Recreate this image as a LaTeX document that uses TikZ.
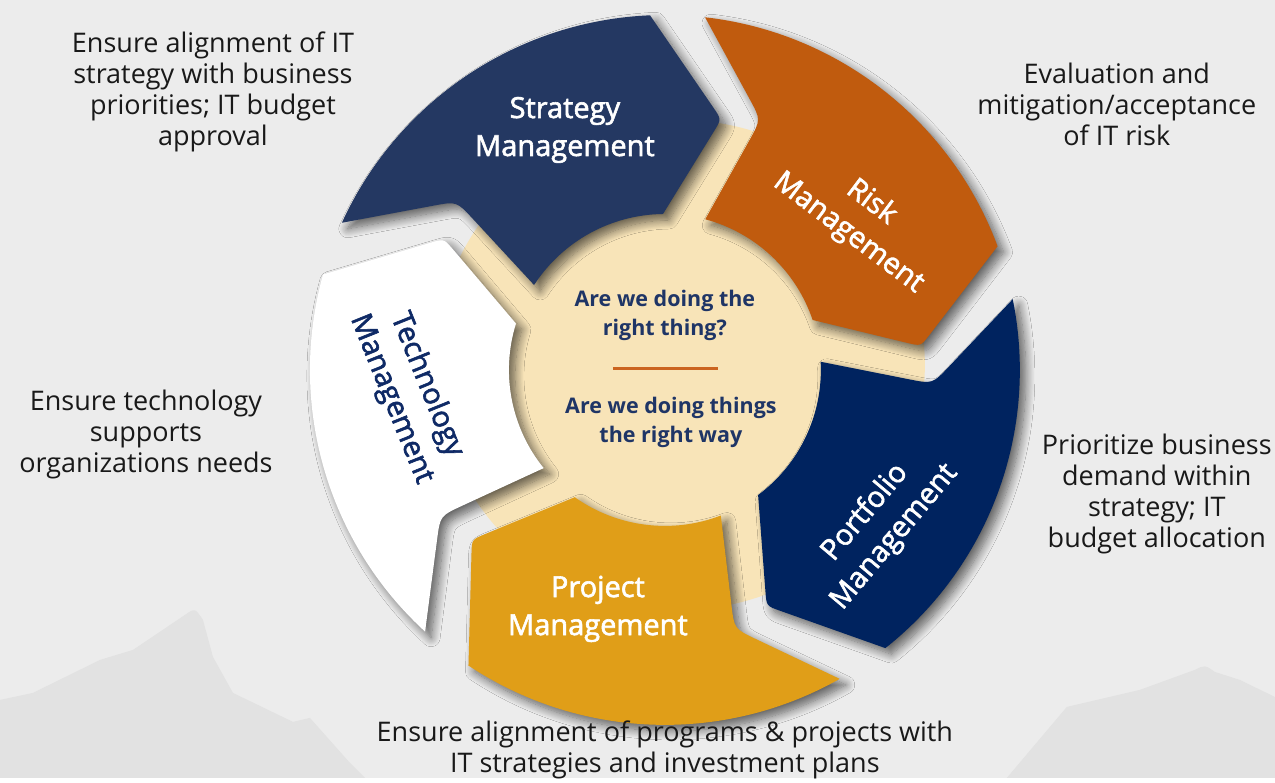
\documentclass[tikz,border=0pt]{standalone}
\usepackage{fontspec}
\setmainfont{Open Sans}
\newfontfamily\segfont[FakeBold=2]{Open Sans}
\usetikzlibrary{calc,shadows.blur}

\definecolor{bgGray}{HTML}{ECECEC}
\definecolor{hillGray}{HTML}{E2E2E2}
\definecolor{stratBlue}{HTML}{243862}
\definecolor{riskOrange}{HTML}{C05B0E}
\definecolor{portNavy}{HTML}{00235F}
\definecolor{projGold}{HTML}{E09E18}
\definecolor{coreBeige}{HTML}{F8E4B8}
\definecolor{qNavy}{HTML}{1F3566}
\definecolor{techNavy}{HTML}{0F2A66}
\definecolor{lineOrange}{HTML}{CB6420}

\begin{document}
\begin{tikzpicture}[x=1pt,y=1pt,
  segshadow/.style={blur shadow={shadow xshift=6pt,shadow yshift=-6pt,shadow blur radius=9pt,shadow blur steps=12,shadow opacity=60}},
  seglabel/.style={align=center,font=\segfont\fontsize{29}{38}\selectfont,text=white},
  note/.style={align=center,font=\fontsize{27}{31}\selectfont,text=black!90},
  ask/.style={align=center,font=\fontsize{21.5}{29}\selectfont\bfseries,text=qNavy}]

% background and hills
\fill[bgGray] (-665,-408) rectangle (610,370);
\fill[hillGray] (-665,-330) -- (-632,-323) -- (-565,-290) -- (-532,-280) -- (-480,-245)
  .. controls (-470,-238) .. (-462,-250) -- (-452,-287) -- (-432,-323) -- (-372,-352)
  -- (-355,-348) -- (-315,-393) -- (-300,-408) -- (-665,-408) -- cycle;
\fill[hillGray] (342,-408) -- (402,-337) -- (475,-320) -- (530,-300)
  .. controls (540,-295) .. (550,-302) -- (575,-310) -- (610,-327) -- (610,-408) -- cycle;

% core
\fill[coreBeige] (15,5) circle[radius=245pt];

% five segments, clockwise
\foreach \i/\col in {0/stratBlue,1/riskOrange,2/portNavy,3/projGold,4/white}{
  \begin{scope}[rotate=-72*\i]
    \coordinate (hi) at (90.7:156);
    \coordinate (tp) at (77.3:257);
    \coordinate (ho) at (92.4:355);
    \coordinate (to) at (155.5:355);
    \coordinate (nt) at (141:268);
    \coordinate (ti) at (147:156);
    \fill[\col,segshadow] (hi) -- ($(tp)!14pt!(hi)$) .. controls (tp) .. ($(tp)!14pt!(ho)$)
      -- (ho) arc[start angle=92.4,end angle=155.5,radius=355pt]
      -- ($(nt)!24pt!(to)$) .. controls (nt) .. ($(nt)!24pt!(ti)$)
      -- (ti) arc[start angle=147,end angle=90.7,radius=156pt] -- cycle;
  \end{scope}
}

% segment labels
\node[seglabel] (strat) at (-100,240) {Strategy\\Management};
\node[seglabel,rotate=-37] (risk) at (195,152) {Risk\\Management};
\node[seglabel,rotate=50] (port) at (215,-155) {Portfolio\\Management};
\node[seglabel] (proj) at (-67,-239) {Project\\Management};
\node[seglabel,rotate=-68,text=techNavy] (tech) at (-256,-22) {Technology\\Management};

% centre questions
\node[ask] (right) at (0,55) {Are we doing the\\right thing?};
\coordinate (dl) at (-52,1);
\coordinate (dr) at (53,1);
\draw[lineOrange,line width=3pt] (dl) -- (dr);
\node[ask] (way) at (6,-52) {Are we doing things\\the right way};

% notes
\node[note] (nstrat) at (-452,278) {Ensure alignment of IT\\strategy with business\\priorities; IT budget\\approval};
\node[note] (nrisk) at (452,266) {Evaluation and\\mitigation/acceptance\\of IT risk};
\node[note] (nport) at (492,-124) {Prioritize business\\demand within\\strategy; IT\\budget allocation};
\node[note] (ntech) at (-519,-65) {Ensure technology\\supports\\organizations needs};
\node[note] (nproj) at (0,-380) {Ensure alignment of programs \& projects with\\IT strategies and investment plans};
\end{tikzpicture}
\end{document}
